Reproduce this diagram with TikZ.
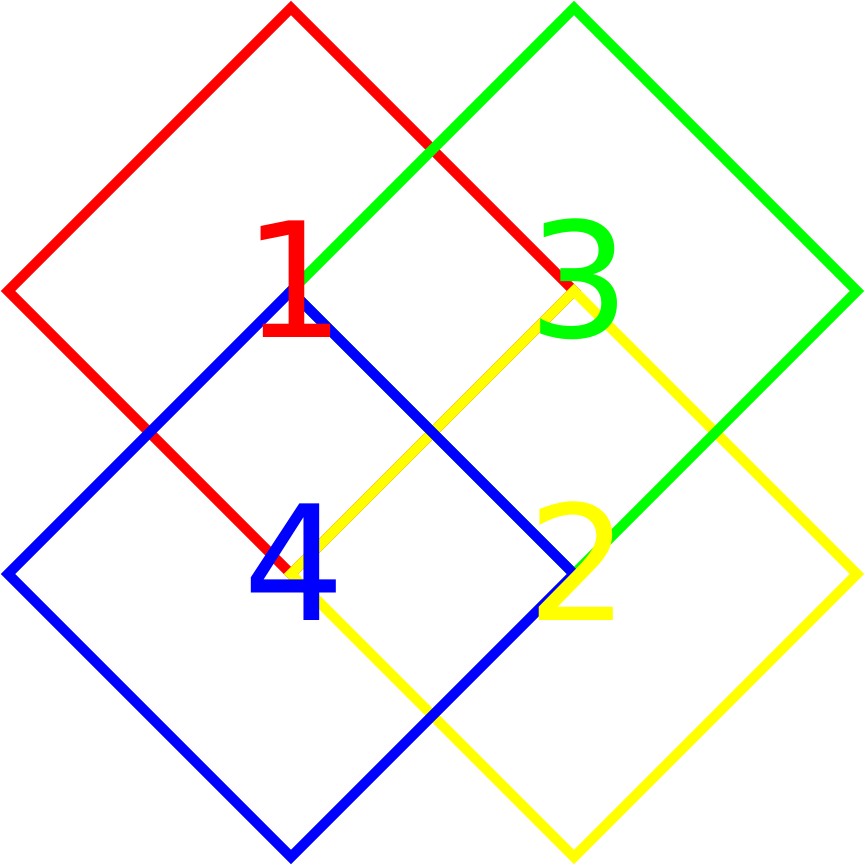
\documentclass[tikz,border=0pt]{standalone}
\usepackage{fontspec}
\setmainfont{DejaVu Sans}
\definecolor{pred}{RGB}{255,0,0}
\definecolor{pgreen}{RGB}{0,255,0}
\definecolor{pblue}{RGB}{0,0,255}
\definecolor{pyellow}{RGB}{255,255,0}
\tikzset{
  frame/.style={line width=7.5pt, miter limit=10, line join=miter},
  digit/.style={anchor=base, inner sep=0pt, font=\fontsize{120}{122}\selectfont}
}
\begin{document}
\begin{tikzpicture}[x=0.75pt, y=-0.75pt]
\useasboundingbox (0,0) rectangle (865,865);
% diamonds, back to front
\draw[frame, pred] (8,291) -- (291,8) -- (574,291) -- (291,574) -- cycle;
\draw[frame, pyellow] (291,574) -- (574,291) -- (857,574) -- (574,857) -- cycle;
\draw[frame, pgreen] (291,291) -- (574,8) -- (857,291) -- (574,574) -- cycle;
\draw[frame, pblue] (8,574) -- (291,291) -- (574,574) -- (291,857) -- cycle;
% numbers
\node[digit, text=pred] at (294,337) (one) {1};
\node[digit, text=pgreen] at (579,337) (three) {3};
\node[digit, text=pblue] at (294,620) (four) {4};
\node[digit, text=pyellow] at (578,620) (two) {2};
\end{tikzpicture}
\end{document}
